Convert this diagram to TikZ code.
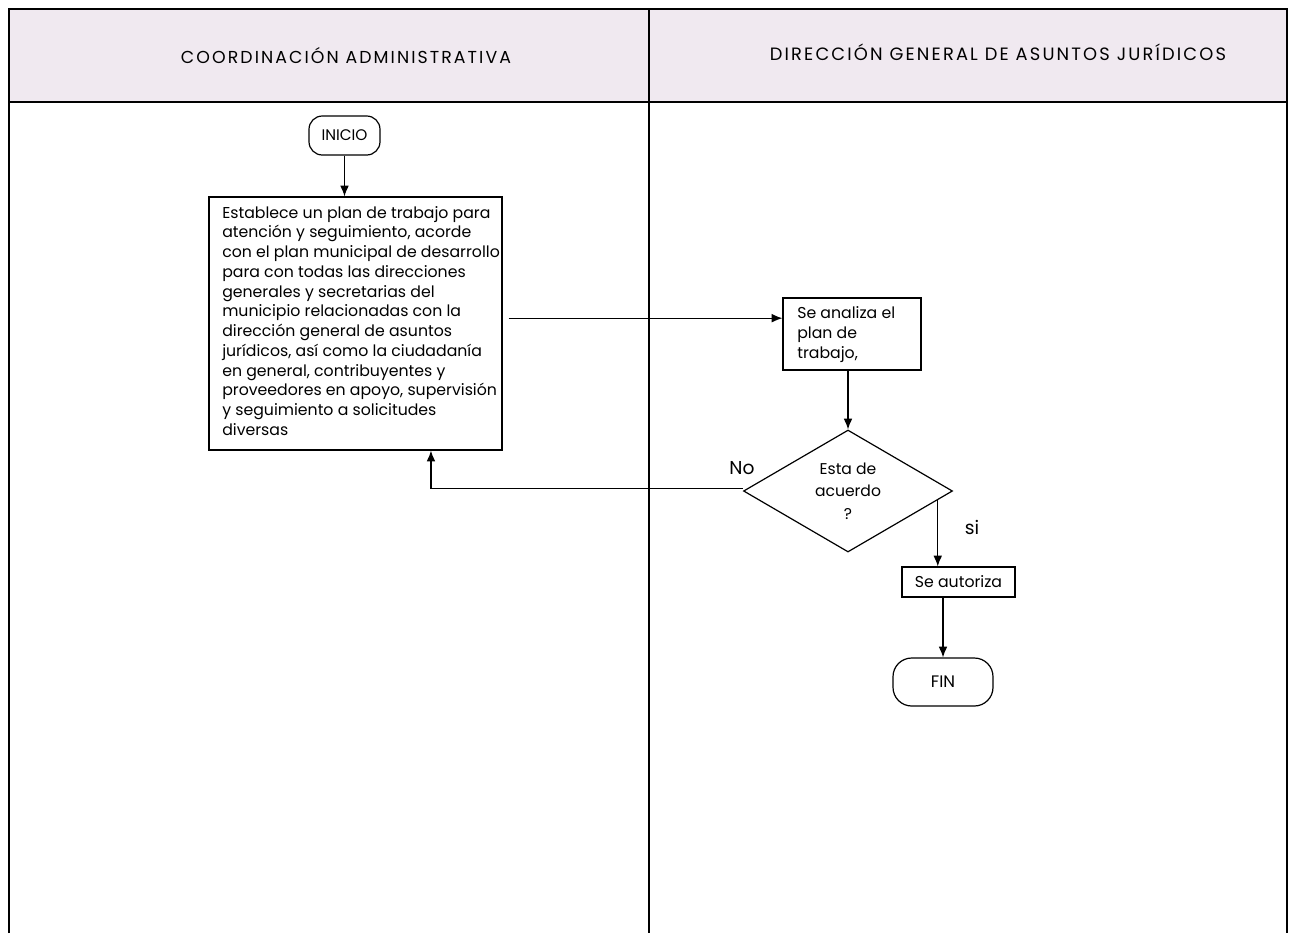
\documentclass[tikz,border=0pt]{standalone}
\usepackage{fontspec}
\setmainfont{Poppins}
\newfontfamily\hdrfont[LetterSpace=12]{Poppins}
\usetikzlibrary{calc,shapes.geometric,arrows.meta}
\definecolor{hdrfill}{RGB}{240,233,240}
\tikzset{
  lane/.style={line width=1.6pt},
  hdrtext/.style={font=\hdrfont\fontsize{13}{15}\selectfont},
  procbox/.style={draw,line width=0.9pt,inner sep=0pt,font=\fontsize{11.8}{14.8}\selectfont,align=left},
  plaintext/.style={inner sep=0pt,font=\fontsize{11.8}{14.8}\selectfont,align=left},
  term/.style={draw,line width=0.9pt,rounded corners=10pt,inner sep=0pt,font=\fontsize{11.5}{13}\selectfont},
  decision/.style={draw,line width=0.9pt,diamond,aspect=1.71,inner sep=0pt,font=\fontsize{11.7}{17}\selectfont,align=center},
  arr/.style={line width=0.9pt,-{Latex[length=8pt,width=6.5pt]}},
  lbl/.style={font=\fontsize{14}{16}\selectfont}
}
\begin{document}
\begin{tikzpicture}[x=0.75pt,y=-0.75pt]
\useasboundingbox (0,0) rectangle (1291,933);
% header
\fill[hdrfill] (9,9) rectangle (1287,102);
\draw[lane] (9,933) -- (9,9) -- (1287,9) -- (1287,933);
\draw[lane] (9,102) -- (1287,102);
\draw[lane] (649,9) -- (649,933);
\node[hdrtext] (h1) at (346,56) {COORDINACIÓN ADMINISTRATIVA};
\node[hdrtext,font=\hdrfont\fontsize{13.4}{15}\selectfont] (h2) at (998,52) {DIRECCIÓN GENERAL DE ASUNTOS JURÍDICOS};
% nodes
\node[term,minimum width=53.25pt,minimum height=29.25pt] (ini) at (344.5,135.5) {INICIO};
\node[procbox,minimum width=219.75pt,minimum height=189.75pt] (box) at (355.5,323.5) {};
\node[plaintext,anchor=north west] (boxtxt) at (222,206) {Establece un plan de trabajo para\\atención y seguimiento, acorde\\con el plan municipal de desarrollo\\para con todas las direcciones\\generales y secretarias del\\municipio relacionadas con la\\dirección general de asuntos\\jurídicos, así como la ciudadanía\\en general, contribuyentes y\\proveedores en apoyo, supervisión\\y seguimiento a solicitudes\\diversas};
\node[procbox,minimum width=103.5pt,minimum height=54pt] (an) at (852,334) {};
\node[plaintext,anchor=north west] (antxt) at (797,306.5) {Se analiza el\\plan de\\trabajo,};
\node[decision,minimum width=156.75pt,minimum height=91.5pt] (d) at (848,491) {Esta de\\acuerdo\\?};
\node[procbox,minimum width=84.75pt,minimum height=22.5pt,align=center] (sa) at (958.5,582) {Se autoriza};
\node[term,minimum width=75pt,minimum height=36pt,rounded corners=14pt,font=\fontsize{12.5}{14}\selectfont] (fin) at (943,682) {FIN};
% labels
\node[lbl] (no) at (742,468) {No};
\node[lbl] (si) at (972,527) {si};
% connectors
\draw[arr] (ini.south) -- (box.north -| ini.south);
\coordinate (bxout) at ([xshift=4.5pt,yshift=4pt]box.east);
\draw[arr] (bxout) -- (an.west |- bxout);
\draw[arr] (d.north |- an.south) -- (d.north);
\coordinate (sistart) at ($(d.south)!0.854!(d.east)$);
\draw[arr] (sistart) -- (sistart |- sa.north);
\draw[arr] (fin.north |- sa.south) -- (fin.north);
\draw[arr] ([yshift=2pt]d.west) -| ([xshift=56.6pt]box.south);
\end{tikzpicture}
\end{document}
